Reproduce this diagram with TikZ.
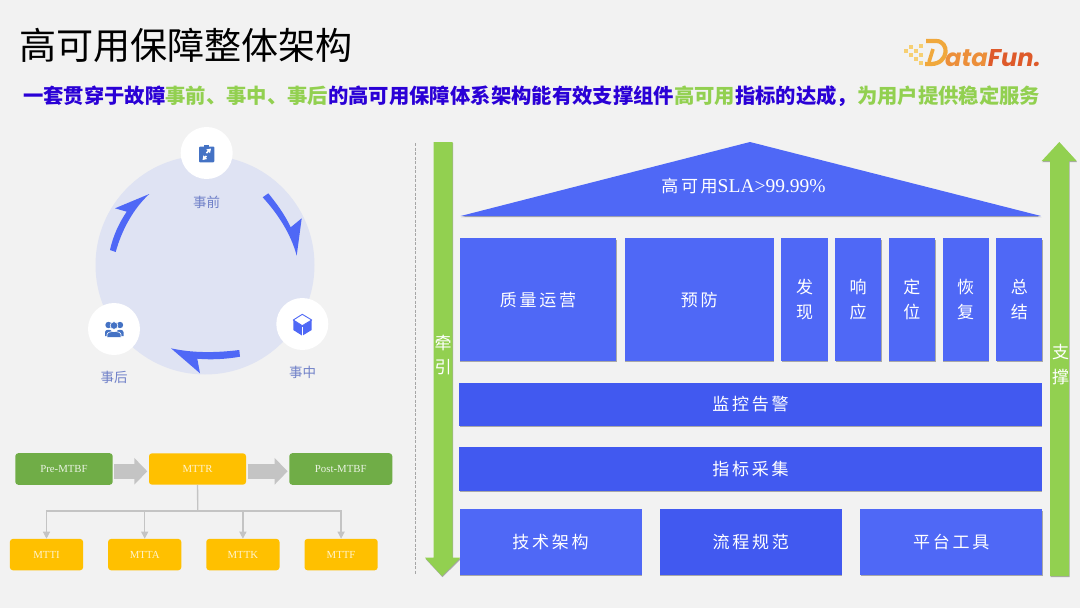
\documentclass[tikz,border=0pt]{standalone}
\usepackage{fontspec}
\setmainfont{Liberation Serif}
\newfontfamily\cjk{Noto Sans CJK SC}
\newfontfamily\cjkwide[LetterSpace=16]{Noto Sans CJK SC}
\newfontfamily\logofont{Poppins}
\usetikzlibrary{arrows.meta,shadows}
\definecolor{pagebg}{HTML}{F2F2F2}
\definecolor{blockblue}{HTML}{4F68F6}
\definecolor{bardark}{HTML}{4159F0}
\definecolor{leafgreen}{HTML}{92D050}
\definecolor{titleblue}{HTML}{2A00D6}
\definecolor{discblue}{HTML}{DFE3F3}
\definecolor{iconblue}{HTML}{4472C4}
\definecolor{labelblue}{HTML}{6F80C8}
\definecolor{mtbfgreen}{HTML}{70AD47}
\definecolor{mttrgold}{HTML}{FFC000}
\definecolor{linegray}{HTML}{C4C4C4}
\definecolor{logodots}{HTML}{F6CF72}
\definecolor{logogold}{HTML}{F0A83C}
\definecolor{logoamber}{HTML}{EC8F3A}
\definecolor{logored}{HTML}{DE5A2A}
\begin{document}
\begin{tikzpicture}[x=1pt,y=-1pt,
  softshadow/.style={drop shadow={shadow xshift=.5pt,shadow yshift=-1.2pt,opacity=.3,fill=black}},
  block/.style={fill=blockblue,text=white,inner sep=0pt,softshadow,font=\cjkwide\fontsize{17}{24.7}\selectfont,align=center},
  tall block/.style={block,minimum height=122.7pt},
  pillar block/.style={tall block,minimum width=46.2pt},
  wide bar/.style={block,fill=bardark,minimum width=582.5pt,minimum height=43.2pt},
  base block/.style={block,minimum width=182pt,minimum height=65.6pt},
  round box/.style={rounded corners=3pt,inner sep=0pt,text=white,font=\fontsize{10.8}{12}\selectfont},
  mtbf box/.style={round box,fill=mtbfgreen,text=white!85!mtbfgreen,minimum height=31.6pt},
  mttr box/.style={round box,fill=mttrgold,text=white!80!mttrgold,minimum height=31.4pt},
  leaf box/.style={mttr box,minimum width=73.2pt},
  white disc/.style={circle,fill=white,minimum size=52pt,inner sep=0pt},
  phase label/.style={text=labelblue,font=\cjk\fontsize{13.5}{16}\selectfont},
  cycle arrow/.style={fill=blockblue},
  green arrow/.style={fill=leafgreen,softshadow},
  green label/.style={text=white,align=center,font=\cjk\fontsize{17}{24.7}\selectfont},
  fat arrow/.style={draw=linegray,line width=14.7pt,shorten >=1.5pt,shorten <=1.5pt,-{Triangle[length=13pt,width=26pt]}},
  tree line/.style={draw=linegray,line width=1.3pt,-{Triangle[length=7pt,width=7pt]}},
  tree trunk/.style={draw=linegray,line width=1.3pt},
  page rule/.style={draw=gray!70,line width=1pt,dash pattern=on 3pt off 1.5pt}]

  \fill[pagebg] (0,0) rectangle (1080,608);

  \node[anchor=west,inner sep=0pt,font=\cjk\fontsize{37.1}{40}\selectfont] (title) at (19,45) {高可用保障整体架构};
  \node[anchor=west,inner sep=0pt,text=titleblue,font=\cjk\bfseries\fontsize{20.34}{24}\selectfont] (subtitle) at (23,96)
    {一套贯穿于故障\textcolor{leafgreen}{事前、事中、事后}的高可用保障体系架构能有效支撑组件\textcolor{leafgreen}{高可用}指标的达成，\textcolor{leafgreen}{为用户提供稳定服务}};

  \foreach \dotx/\doty in {906/51,911/47,911/55,916/51,916/59,921/46,921/55,921/63}
    \fill[logodots] (\dotx-1.8,\doty-1.8) rectangle (\dotx+1.8,\doty+1.8);
  \draw[logogold,line width=4.2pt,line join=round] (926,41) -- (936,41) .. controls (950,41) and (949,64) .. (931,64) -- (925,64);
  \draw[logogold,line width=3.6pt] (933,49) -- (929,62);
  \node[anchor=west,inner sep=0pt,text=logoamber,font=\logofont\bfseries\itshape\fontsize{24.2}{26}\selectfont] (logotext) at (945,58) {ata\textcolor{logored}{Fun.}};

  \fill[discblue] (205,265) circle (109.5pt);
  \node[white disc] (before) at (206.7,153) {};
  \node[white disc] (during) [right of=before,node distance=95.6pt,yshift=-171pt] {};
  \node[white disc] (after)  at (114,329) {};
  \node[phase label] (beforetext) at (206.5,202) {事前};
  \node[phase label] (duringtext) at (302.5,372) {事中};
  \node[phase label] (aftertext)  at (114,377) {事后};

  \fill[cycle arrow] (262.7,197.3) .. controls (278,214) and (291,234) .. (296.7,255.7)
    -- (301.7,218.3) -- (290.7,227.3) .. controls (285,215) and (277,204) .. (268.3,193.3) -- cycle;
  \fill[cycle arrow] (239.3,350) .. controls (215,353) and (192,353) .. (171,348.3)
    -- (200,373.3) -- (197.3,358.7) .. controls (212,360) and (227,359) .. (240,356.7) -- cycle;
  \fill[cycle arrow] (110,250) .. controls (113,236) and (119,223) .. (126.7,211.7)
    -- (115,208.3) -- (149.3,194) .. controls (134,208) and (122,229) .. (115.7,252) -- cycle;

  \fill[iconblue,rounded corners=1pt] (199,146.5) rectangle (214.3,162.3);
  \fill[iconblue] (204,145) rectangle (209,148);
  \draw[white,line width=1.6pt,-{Triangle[length=4pt,width=5pt]}] (206.5,156) -- (202.5,160);
  \draw[white,line width=1.6pt,-{Triangle[length=4pt,width=5pt]}] (206.5,153) -- (211,148.5);

  \fill[blockblue] (293.3,320) -- (302.3,325.7) -- (311.7,320) -- (311.7,330) -- (302.3,335.7) -- (293.3,330) -- cycle;
  \draw[blockblue,line width=.9pt,line join=round,fill=white] (293.3,320) -- (302.3,314.3) -- (311.7,320) -- (302.3,325.7) -- cycle;
  \draw[white,line width=.7pt] (302.3,326.5) -- (302.3,335.7);

  \fill[iconblue] (108.5,325) circle (3.2pt) (120,325) circle (3.2pt);
  \fill[iconblue] (105,336) -- (105,332) .. controls (105,329) and (112,329) .. (112,332) -- (112,336) -- cycle;
  \fill[iconblue] (116.5,336) -- (116.5,332) .. controls (116.5,329) and (123.5,329) .. (123.5,332) -- (123.5,336) -- cycle;
  \fill[iconblue,draw=white,line width=.6pt] (114,325.5) circle (3.8pt);
  \fill[iconblue,draw=white,line width=.6pt] (107,337.3) -- (107,334.5) .. controls (107,330.5) and (121,330.5) .. (121,334.5) -- (121,337.3) -- cycle;

  \node[mtbf box,minimum width=97.4pt] (pre) at (64,469) {Pre-MTBF};
  \node[mttr box,minimum width=97pt]   (mttr) [right of=pre,node distance=133.5pt] {MTTR};
  \node[mtbf box,minimum width=103pt]  (post) [right of=mttr,node distance=143.3pt] {Post-MTBF};
  \node[leaf box] (mtti) at (46.5,554.6) {MTTI};
  \node[leaf box] (mtta) [right of=mtti,node distance=98.2pt] {MTTA};
  \node[leaf box] (mttk) [right of=mtta,node distance=98.2pt] {MTTK};
  \node[leaf box] (mttf) [right of=mttk,node distance=98.2pt] {MTTF};
  \coordinate (bus) at (197.7,511);

  \draw[fat arrow] ([yshift=-2.3pt]pre.east) -- ([yshift=-2.3pt]mttr.west);
  \draw[fat arrow] ([yshift=-2.3pt]mttr.east) -- ([yshift=-2.3pt]post.west);
  \draw[tree trunk] (mttr) -- (bus);
  \draw[tree line] (bus) -| (mtti);
  \draw[tree line] (bus) -| (mtta);
  \draw[tree line] (bus) -| (mttk);
  \draw[tree line] (bus) -| (mttf);

  \draw[page rule] (415,143) -- (415,575);

  \path[green arrow] (433.5,142) -- (452.5,142) -- (452.5,557.7) -- (460.4,557.7) -- (442,576) -- (425,557.7) -- (433.5,557.7) -- cycle;
  \path[green arrow] (1050,576) -- (1050,161) -- (1041.7,161) -- (1059.3,142) -- (1076.7,161) -- (1069,161) -- (1069,576) -- cycle;
  \node[green label] (pull) at (443,355) {牵\\引};
  \node[green label] (hold) at (1060.5,364.5) {支\\撑};

  \path[fill=blockblue,softshadow] (460.7,216) -- (750,142) -- (1041,216) -- cycle;
  \node[text=white,inner sep=0pt,font=\cjkwide\fontsize{17}{20}\selectfont] (sla) at (743.5,186)
    {高可用{\rmfamily\fontsize{19.5}{20}\selectfont SLA>99.99\%}};

  \node[tall block,minimum width=156.6pt] (quality) at (538,299.7) {质量运营};
  \node[tall block,minimum width=149.3pt] (prevent) [right of=quality,node distance=161.3pt] {预防};
  \node[pillar block] (detect)  [right of=prevent,node distance=105.2pt] {发\\现};
  \node[pillar block] (respond) [right of=detect,node distance=53.7pt] {响\\应};
  \node[pillar block] (locate)  [right of=respond,node distance=53.7pt] {定\\位};
  \node[pillar block] (recover) [right of=locate,node distance=53.7pt] {恢\\复};
  \node[pillar block] (review)  [right of=recover,node distance=53.7pt] {总\\结};

  \node[wide bar] (alarm) at (750.5,404.2) {监控告警};
  \node[wide bar] (metric) [below of=alarm,node distance=64.8pt] {指标采集};
  \node[base block] (tech) at (550.5,542.2) {技术架构};
  \node[base block,fill=bardark] (process) [right of=tech,node distance=200.3pt] {流程规范};
  \node[base block] (platform) [right of=process,node distance=200.4pt] {平台工具};
\end{tikzpicture}
\end{document}
